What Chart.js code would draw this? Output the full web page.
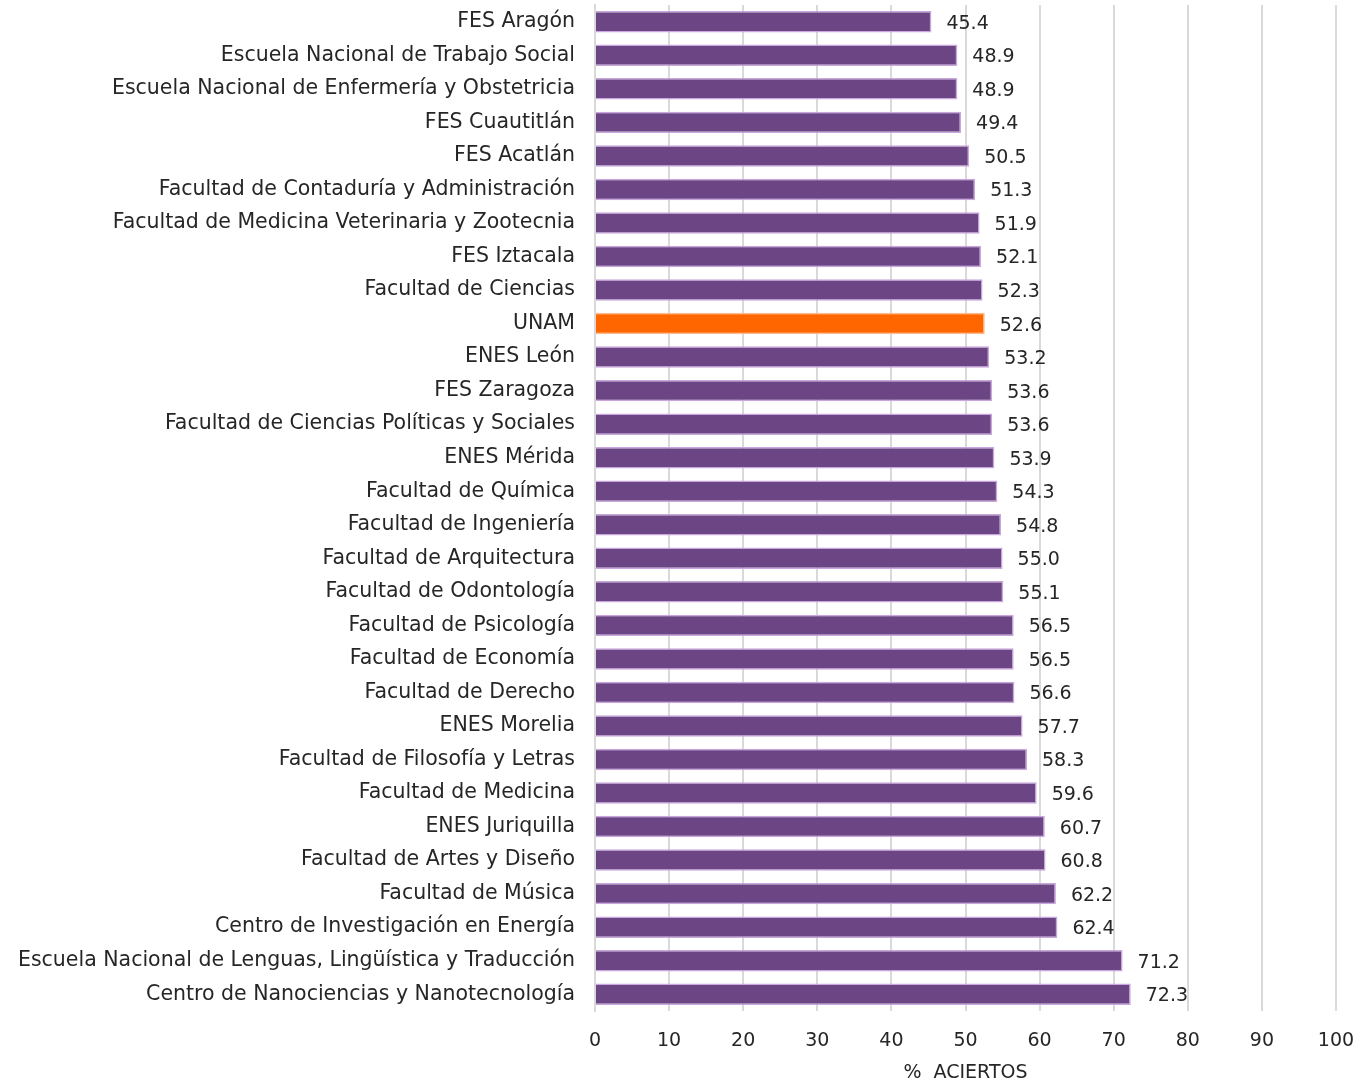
<!DOCTYPE html>
<html>
<head>
<meta charset="utf-8">
<script src="https://cdn.jsdelivr.net/npm/chart.js@4"></script>
<style>
  body { margin: 0; background: #fff; }
  #wrap { width: 1369px; height: 1084px; }
</style>
</head>
<body>
<div id="wrap"><canvas id="chart"></canvas></div>
<script>
const categories = [
  'FES Aragón', 'Escuela Nacional de Trabajo Social', 'Escuela Nacional de Enfermería y Obstetricia',
  'FES Cuautitlán', 'FES Acatlán', 'Facultad de Contaduría y Administración',
  'Facultad de Medicina Veterinaria y Zootecnia', 'FES Iztacala', 'Facultad de Ciencias', 'UNAM',
  'ENES León', 'FES Zaragoza', 'Facultad de Ciencias Políticas y Sociales', 'ENES Mérida',
  'Facultad de Química', 'Facultad de Ingeniería', 'Facultad de Arquitectura', 'Facultad de Odontología',
  'Facultad de Psicología', 'Facultad de Economía', 'Facultad de Derecho', 'ENES Morelia',
  'Facultad de Filosofía y Letras', 'Facultad de Medicina', 'ENES Juriquilla', 'Facultad de Artes y Diseño',
  'Facultad de Música', 'Centro de Investigación en Energía',
  'Escuela Nacional de Lenguas, Lingüística y Traducción', 'Centro de Nanociencias y Nanotecnología'
];
const aciertos = [45.4, 48.9, 48.9, 49.4, 50.5, 51.3, 51.9, 52.1, 52.3, 52.6,
  53.2, 53.6, 53.6, 53.9, 54.3, 54.8, 55.0, 55.1, 56.5, 56.5,
  56.6, 57.7, 58.3, 59.6, 60.7, 60.8, 62.2, 62.4, 71.2, 72.3];
const xTicks = [0, 10, 20, 30, 40, 50, 60, 70, 80, 90, 100];
const highlight = 'UNAM';

const FONT = "'DejaVu Sans', sans-serif";
const barColors = categories.map(c => c === highlight ? '#ff6600' : '#6b4584');
const borderColors = categories.map(c => c === highlight ? '#ffb88a' : '#c9a6dd');

const valueLabels = {
  id: 'valueLabels',
  afterDatasetsDraw(chart) {
    const ctx = chart.ctx;
    const meta = chart.getDatasetMeta(0);
    ctx.save();
    ctx.font = '19px ' + FONT;
    ctx.fillStyle = '#262626';
    ctx.textAlign = 'left';
    ctx.textBaseline = 'middle';
    meta.data.forEach((bar, i) => {
      ctx.fillText(aciertos[i].toFixed(1), bar.x + 15, bar.y + 2);
    });
    ctx.restore();
  }
};

new Chart(document.getElementById('chart'), {
  type: 'bar',
  data: {
    labels: categories,
    datasets: [{
      data: aciertos,
      backgroundColor: barColors,
      borderColor: borderColors,
      borderWidth: 1.5,
      borderSkipped: 'start',
      categoryPercentage: 1,
      barPercentage: 0.64
    }]
  },
  options: {
    indexAxis: 'y',
    responsive: true,
    maintainAspectRatio: false,
    animation: false,
    layout: { padding: { top: 5, right: 33, left: 0, bottom: 0 } },
    plugins: { legend: { display: false }, tooltip: { enabled: false } },
    scales: {
      x: {
        min: 0,
        max: 100,
        afterBuildTicks: s => { s.ticks = xTicks.map(v => ({ value: v })); },
        grid: { color: '#d9d9d9', lineWidth: 2, drawTicks: false },
        border: { display: false },
        ticks: { font: { family: FONT, size: 19 }, color: '#262626', padding: 19 },
        title: { display: true, text: '%  ACIERTOS', font: { family: FONT, size: 19 }, color: '#262626', padding: { top: 9, bottom: 0 } },
        afterFit: s => { s.height = 73; s.paddingLeft = 0; s.paddingRight = 0; }
      },
      y: {
        grid: { display: false },
        border: { display: true, color: '#d9d9d9', width: 2 },
        ticks: { font: { family: FONT, size: 20.5 }, color: '#262626', padding: 12, autoSkip: false },
        afterFit: s => { s.width = 595; s.paddingTop = 0; s.paddingBottom = 0; }
      }
    }
  },
  plugins: [valueLabels]
});
</script>
</body>
</html>
